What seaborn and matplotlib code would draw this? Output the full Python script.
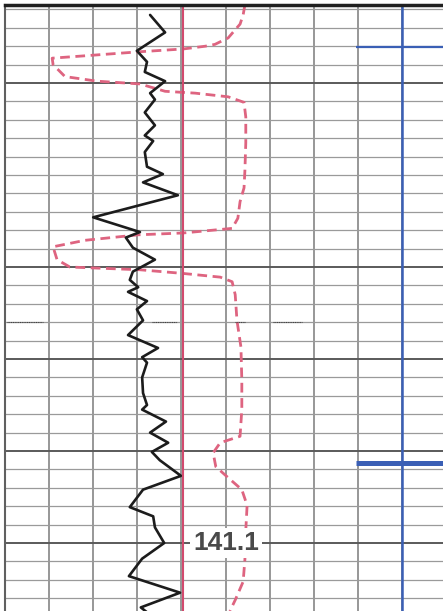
import numpy as np
import pandas as pd
import matplotlib.pyplot as plt
import seaborn as sns

# track values on a 0-100 scale (10 per grid division), depth downwards
gr_depth = [92.6, 94.5, 96.5, 97.7, 98.8, 99.8, 101.1, 101.8, 103.2, 104.6, 105.7, 106.3,
            107.5, 109.1, 109.9, 110.8, 112.2, 114.6, 116.2, 116.8, 117.9, 119.2, 120.5,
            121.4, 122.2, 122.7, 123.7, 124.6, 125.8, 127.4, 128.8, 129.8, 130.4, 132.0,
            133.7, 135.0, 135.5, 136.8, 138.0, 139.1, 140.1, 141.0, 142.7, 144.2, 146.1,
            147.1, 148.3, 150.0, 151.7, 153.6, 155.4, 157.0, 157.8]
gr_value = [32.9, 36.3, 29.9, 32.2, 31.7, 36.3, 32.9, 34.0, 31.7, 34.0, 31.7, 33.6,
            31.7, 32.2, 35.8, 31.3, 39.2, 20.0, 30.6, 27.4, 29.0, 34.0, 29.0,
            28.3, 30.2, 27.9, 32.2, 29.9, 31.3, 27.9, 34.7, 31.1, 32.2, 31.1,
            31.3, 32.2, 31.1, 36.5, 32.9, 37.0, 33.3, 35.1, 39.9, 31.3, 28.3,
            33.6, 34.0, 36.1, 31.1, 28.1, 39.7, 30.8, 32.9]

res_depth = [91.5, 92.6, 93.6, 95.1, 95.8, 96.0, 96.3, 96.6, 97.0, 97.3, 98.0, 99.3,
             99.8, 100.1, 100.9, 101.1, 101.5, 102.1, 103.7, 106.5, 109.5, 111.4, 112.9,
             114.7, 115.8, 116.3, 116.5, 117.1, 117.8, 119.2, 120.0, 120.3, 120.7, 121.1,
             121.6, 123.0, 125.8, 128.7, 132.3, 135.5, 138.4, 139.1, 140.2, 141.7, 142.9,
             144.2, 145.9, 148.6, 151.8, 154.2, 156.2, 157.4]
res_value = [54.4, 54.0, 53.3, 50.6, 47.6, 45.4, 40.4, 30.6, 19.3, 10.7, 10.9, 13.6,
             20.9, 30.6, 36.3, 43.1, 50.6, 54.2, 54.6, 54.6, 54.4, 54.2, 53.3,
             52.8, 51.5, 40.4, 30.2, 18.1, 10.9, 11.8, 14.7, 30.6, 40.4, 48.8,
             51.5, 52.2, 52.6, 53.5, 53.7, 53.7, 53.3, 48.8, 47.2, 47.8, 50.6,
             53.7, 54.9, 54.6, 54.4, 54.0, 52.2, 51.0]

cutoff_value = 40.4
blue_value = 90.0
blue_tick_depth = [96.1, 141.3]
blue_tick_from = 79.6
marker_depth = 126.0
marker_from = [0.5, 33.3, 52.2, 60.8]
marker_to = [8.6, 39.0, 54.4, 67.3]
label_text = "141.1"
label_value = 50.1
label_depth = 150.0

major_depths = [100, 120, 130, 140, 150]
minor_depths = np.arange(92, 158, 2)
track_lines = np.arange(0, 100, 10)

df_gr = pd.DataFrame({"depth": gr_depth, "value": gr_value})
df_res = pd.DataFrame({"depth": res_depth, "value": res_value})

sns.set_style("white")
fig = plt.figure(figsize=(4.43, 6.11), dpi=100)
ax = fig.add_axes([5 / 443, 0, 438 / 443, 606 / 611])

# grid
ax.set_xticks(track_lines)
ax.set_yticks(major_depths)
ax.set_yticks(minor_depths, minor=True)
ax.grid(which="major", axis="x", color="#7a7a7a", lw=1.1)
ax.grid(which="minor", axis="y", color="#9a9a9a", lw=0.9)
ax.grid(which="major", axis="y", color="#5a5a5a", lw=1.4)
ax.tick_params(which="both", length=0, labelbottom=False, labelleft=False)
ax.set_axisbelow(True)

sns.lineplot(data=df_res, x="value", y="depth", orient="y", sort=False, estimator=None,
             color="#de6480", lw=2.0, ax=ax)
ax.lines[-1].set_linestyle((0, (3.5, 2)))
sns.lineplot(data=df_gr, x="value", y="depth", orient="y", sort=False, estimator=None,
             color="#1c1c1c", lw=1.9, ax=ax)
ax.lines[-1].set_solid_joinstyle("round")

ax.axvline(cutoff_value, color="#d24a6e", lw=1.5)
ax.axvline(blue_value, color="#3a5fb5", lw=1.8)
ax.hlines(blue_tick_depth[0], blue_tick_from, 100, color="#3a5fb5", lw=1.6)
ax.hlines(blue_tick_depth[1], blue_tick_from, 100, color="#3a5fb5", lw=3.6)
ax.hlines([marker_depth] * len(marker_from), marker_from, marker_to, color="#444444",
          lw=0.8, linestyles=(0, (1, 0.6)))

ax.text(label_value, label_depth, label_text, ha="center", va="center", fontsize=19,
        family="Liberation Sans", weight="bold", color="#4a4a4a",
        bbox=dict(facecolor="white", edgecolor="none", pad=2))

ax.set_xlim(0, 438 / 4.41)
ax.set_ylim(157.39, 91.52)
ax.set_xlabel("")
ax.set_ylabel("")
for side in ["right", "bottom"]:
    ax.spines[side].set_visible(False)
ax.spines["top"].set_color("#202020")
ax.spines["top"].set_linewidth(2.5)
ax.spines["left"].set_color("#606060")
ax.spines["left"].set_linewidth(1.5)

fig.savefig("out.png", dpi=100)
